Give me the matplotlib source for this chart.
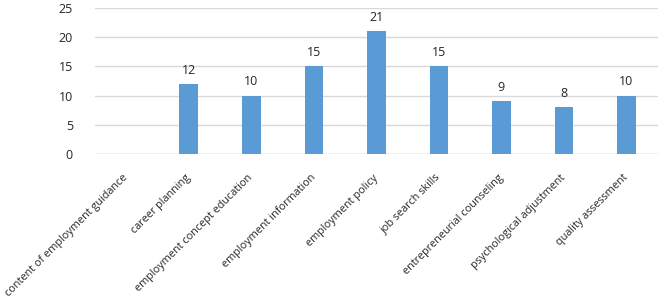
import matplotlib.pyplot as plt
import numpy as np

plt.rcParams['font.family'] = ['Open Sans', 'DejaVu Sans']

categories = ["content of employment guidance", "career planning",
              "employment concept education", "employment information",
              "employment policy", "job search skills",
              "entrepreneurial counseling", "psychological adjustment",
              "quality assessment"]
# first category has no count in the chart
counts = [np.nan, 12, 10, 15, 21, 15, 9, 8, 10]
y_ticks = [0, 5, 10, 15, 20, 25]

fig = plt.figure(figsize=(6.65, 3.03), dpi=100)
ax = fig.add_axes([0.143, 0.492, 0.846, 0.482])

x = np.arange(len(categories))
bars = ax.bar(x, counts, width=0.3, color="#5B9BD5", zorder=3)
for xi, v in zip(x, counts):
    if not np.isnan(v):
        ax.text(xi, v + 1.2, f"{int(v)}", ha="center", va="bottom",
                fontsize=9, color="#262626")

ax.set_xlim(-0.5, len(categories) - 0.5)
ax.set_ylim(0, 25)
ax.set_yticks(y_ticks)
ax.yaxis.grid(True, color="#D9D9D9", linewidth=1, zorder=0)
for s in ax.spines.values():
    s.set_visible(False)
ax.axhline(0, color="#D9D9D9", linewidth=1, zorder=2)
ax.tick_params(axis="y", length=0, labelsize=9, labelcolor="#262626", pad=16)
ax.tick_params(axis="x", length=0, labelsize=7.8, labelcolor="#262626", pad=16)
ax.set_xticks(x)
ax.set_xticklabels(categories, rotation=45, ha="right", va="center",
                   rotation_mode="anchor")

fig.savefig("out.png", dpi=100)
